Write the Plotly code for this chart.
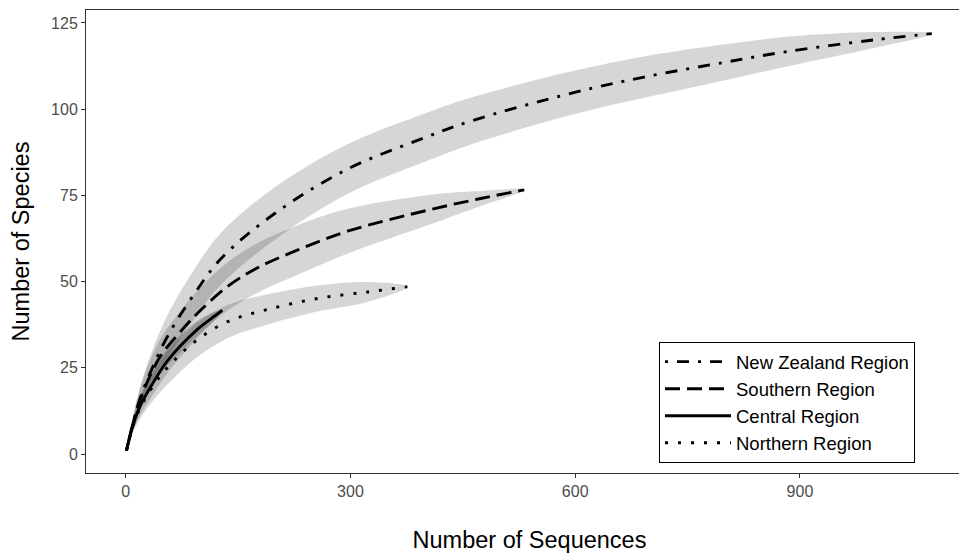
import plotly.graph_objects as go

# ---- data ----
nz_x = [1, 10, 20, 34, 56, 94, 127, 198, 296, 400, 460, 598, 692, 800, 883, 1000, 1076]
nz_y = [1, 9.2, 16.6, 24.2, 34.2, 47.2, 56.6, 69.6, 82.6, 91.8, 96.5, 104.8, 109.3, 113.6, 116.7, 120.1, 121.9]
nz_lo = [1, 7.2, 13.1, 19.2, 28.0, 40.0, 49.1, 62.0, 75.4, 84.8, 89.7, 98.5, 103.3, 108.4, 112.4, 117.8, 121.9]
nz_hi = [1, 11.2, 20.1, 29.2, 40.4, 54.4, 64.1, 77.2, 89.8, 98.8, 103.3, 111.1, 115.3, 118.8, 121.0, 122.4, 121.9]

so_x = [1, 10, 20, 45, 74, 100, 136, 176, 229, 296, 407, 474, 532]
so_y = [1, 9.0, 16.2, 27.9, 35.7, 41.7, 48.6, 54.0, 59.1, 64.6, 70.9, 74.1, 76.6]
so_lo = [1, 7.0, 12.9, 22.9, 29.7, 35.1, 41.6, 46.8, 51.9, 58.1, 66.6, 71.9, 76.6]
so_hi = [1, 11.0, 19.5, 32.9, 41.7, 48.3, 55.6, 61.2, 66.3, 71.1, 75.2, 76.3, 76.6]

ce_x = [1, 10, 20, 34, 56, 96, 115, 129]
ce_y = [1, 8.6, 14.3, 19.7, 27.1, 36.2, 39.4, 41.7]
ce_lo = [1, 6.8, 11.6, 16.4, 23.5, 33.7, 37.9, 41.7]
ce_hi = [1, 10.4, 17.0, 23.0, 30.7, 38.7, 40.9, 41.7]

no_x = [1, 10, 20, 43, 65, 96, 136, 189, 256, 323, 376]
no_y = [1, 8.3, 13.7, 21.7, 27.2, 33.2, 38.4, 41.9, 45.1, 47.0, 48.5]
no_lo = [1, 6.3, 10.5, 17.2, 22.2, 28.2, 33.6, 37.5, 41.3, 44.1, 48.5]
no_hi = [1, 10.3, 16.9, 26.2, 32.2, 38.2, 43.2, 46.3, 48.9, 49.9, 48.5]

names = ["New Zealand Region", "Southern Region", "Central Region", "Northern Region"]
dashes = ["3px,9px,12px,9px", "15px,7px", "solid", "3px,10px"]
series = [(nz_x, nz_y, nz_lo, nz_hi), (so_x, so_y, so_lo, so_hi),
          (ce_x, ce_y, ce_lo, ce_hi), (no_x, no_y, no_lo, no_hi)]

x_ticks = [0, 300, 600, 900]
y_ticks = [0, 25, 50, 75, 100, 125]

BAND = "rgba(0,0,0,0.16)"
FONT = "Liberation Sans, Arial, sans-serif"

fig = go.Figure()
for (x, y, lo, hi) in series:
    bx = list(x) + list(x[:-1])[::-1]
    by = list(hi) + list(lo[:-1])[::-1]
    fig.add_trace(go.Scatter(x=bx, y=by, fill="toself", fillcolor=BAND,
                             line=dict(width=0, shape="spline", smoothing=1),
                             mode="lines", showlegend=False, hoverinfo="skip"))

for (x, y, lo, hi), nm, ds in zip(series, names, dashes):
    fig.add_trace(go.Scatter(x=x, y=y, mode="lines", name=nm,
                             line=dict(color="black", width=2.9, dash=ds,
                                       shape="spline", smoothing=1)))

axis_common = dict(showgrid=False, zeroline=False, showline=True, mirror=True,
                   linecolor="#333333", linewidth=1, ticks="outside", ticklen=4,
                   tickcolor="#333333", tickwidth=1, automargin=False,
                   tickfont=dict(family=FONT, size=16, color="#4d4d4d"))

fig.update_layout(
    width=967, height=554,
    margin=dict(l=78, r=2, t=2, b=89),
    paper_bgcolor="white", plot_bgcolor="white",
    font=dict(family=FONT),
    xaxis=dict(range=[-53, 1131], tickvals=x_ticks,
               title=dict(text="Number of Sequences", font=dict(family=FONT, size=23.5, color="black"), standoff=32),
               **axis_common),
    yaxis=dict(range=[-5.5, 128.75], tickvals=y_ticks,
               title=dict(text="Number of Species", font=dict(family=FONT, size=23.5, color="black"), standoff=14),
               **axis_common),
    legend=dict(x=0.646, y=0.152, xanchor="left", yanchor="middle",
                bordercolor="black", borderwidth=1, bgcolor="white",
                font=dict(family=FONT, size=18.5, color="black"),
                itemwidth=66, tracegroupgap=0),
)

fig.write_html("out.html")
